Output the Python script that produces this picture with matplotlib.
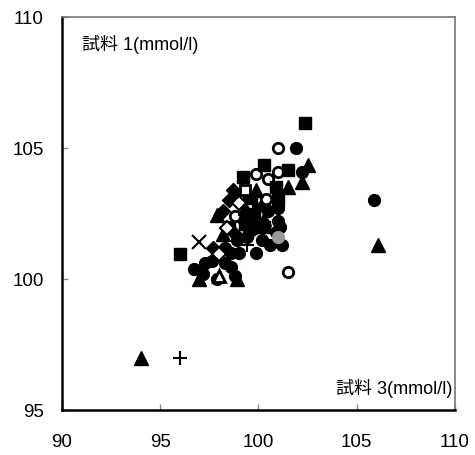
import matplotlib
matplotlib.use("Agg")
import matplotlib.pyplot as plt

plt.rcParams['font.family'] = ['Liberation Sans', 'Noto Sans CJK JP', 'DejaVu Sans']

# --- data (x: 試料 3, y: 試料 1) ---
filled_circle_x = [101.9, 105.9, 101.2, 99.9, 96.7, 97.3, 97.9, 97.65, 98.6, 102.2, 100.0, 99.5, 98.9, 98.3, 101.0, 101.0, 98.8, 99.0, 100.6, 101.1, 100.9,
                   99.5, 100.0, 99.2, 100.5, 99.7, 98.6, 99.4, 100.2, 97.2, 98.3, 99.8, 100.3]
filled_circle_y = [105.0, 103.0, 101.3, 101.0, 100.4, 100.6, 100.0, 100.7, 100.45, 104.1, 102.0, 101.8, 101.5, 101.2, 102.2, 102.7, 100.1, 101.0, 101.3, 102.0, 101.8,
                   102.5, 102.8, 102.3, 102.6, 101.9, 101.0, 101.6, 101.5, 100.2, 100.6, 102.2, 102.9]
open_circle_x = [101.0, 99.9, 101.0, 100.5, 99.9, 100.4, 101.5, 98.8, 99.0]
open_circle_y = [105.0, 104.0, 104.1, 103.8, 103.05, 103.05, 100.27, 102.4, 103.05]
filled_square_x = [102.35, 100.3, 101.5, 99.2, 100.9, 96.0, 99.8, 99.3, 98.5, 100.3, 101.0, 99.6]
filled_square_y = [105.95, 104.35, 104.15, 103.9, 103.5, 100.95, 102.5, 102.1, 102.0, 102.0, 103.0, 103.1]
open_square_x = [99.3]
open_square_y = [103.4]
filled_triangle_x = [106.1, 94.0, 102.5, 99.9, 101.5, 97.9, 97.0, 98.9, 102.2, 99.3, 100.3, 98.2]
filled_triangle_y = [101.3, 97.0, 104.35, 103.4, 103.5, 102.45, 100.0, 100.0, 103.7, 102.7, 102.3, 101.7]
open_triangle_x = [98.0]
open_triangle_y = [100.1]
filled_diamond_x = [98.7, 98.5, 98.2, 99.6, 98.8, 97.7]
filled_diamond_y = [103.4, 103.0, 102.6, 102.3, 101.7, 101.2]
open_diamond_x = [98.4, 98.0, 99.0]
open_diamond_y = [101.95, 100.95, 102.9]
cross_x = [97.0]
cross_y = [101.4]
plus_x = [99.4, 96.0]
plus_y = [101.3, 97.0]
gray_x = [101.0]
gray_y = [101.6]

x_ticks = [90, 95, 100, 105, 110]
y_ticks = [95, 100, 105, 110]
label_y = "試料 1(mmol/l)"
label_x = "試料 3(mmol/l)"

fig = plt.figure(figsize=(4.75, 4.55), dpi=100)
ax = fig.add_axes([0.1305, 0.0989, 0.827, 0.8637])

ms = 8.5
ax.plot(filled_circle_x, filled_circle_y, 'o', color='black', ms=ms, ls='none')
ax.plot(open_circle_x, open_circle_y, 'o', mfc='white', mec='black', mew=2, ms=ms - 1, ls='none')
ax.plot(filled_square_x, filled_square_y, 's', color='black', ms=ms, ls='none')
ax.plot(open_square_x, open_square_y, 's', mfc='white', mec='black', mew=2, ms=ms - 1, ls='none')
ax.plot(filled_triangle_x, filled_triangle_y, '^', color='black', ms=ms + 1, ls='none')
ax.plot(open_triangle_x, open_triangle_y, '^', mfc='white', mec='black', mew=2, ms=ms, ls='none')
ax.plot(filled_diamond_x, filled_diamond_y, 'D', color='black', ms=ms - 1, ls='none')
ax.plot(open_diamond_x, open_diamond_y, 'D', mfc='white', mec='black', mew=1.5, ms=ms - 1, ls='none')
ax.plot(cross_x, cross_y, 'x', color='black', mew=1.5, ms=ms + 1, ls='none')
ax.plot(plus_x, plus_y, '+', color='black', mew=1.5, ms=ms + 1, ls='none')
ax.plot(gray_x, gray_y, 'o', color='#999999', ms=ms, ls='none')

ax.set_xlim(90, 110)
ax.set_ylim(95, 110)
ax.set_xticks(x_ticks)
ax.set_yticks(y_ticks)
ax.tick_params(direction='in', length=4, width=1, color='#888888', labelsize=13.5)
ax.tick_params(axis='x', pad=17)
ax.tick_params(axis='y', pad=13)

for s in ['left', 'bottom']:
    ax.spines[s].set_color('black')
    ax.spines[s].set_linewidth(1.8)
for s in ['top', 'right']:
    ax.spines[s].set_color('#777777')
    ax.spines[s].set_linewidth(1.2)

ax.text(0.05, 0.955, label_y, transform=ax.transAxes, ha='left', va='top', fontsize=13)
ax.text(0.995, 0.03, label_x, transform=ax.transAxes, ha='right', va='bottom', fontsize=13)

fig.savefig('out.png', dpi=100)
